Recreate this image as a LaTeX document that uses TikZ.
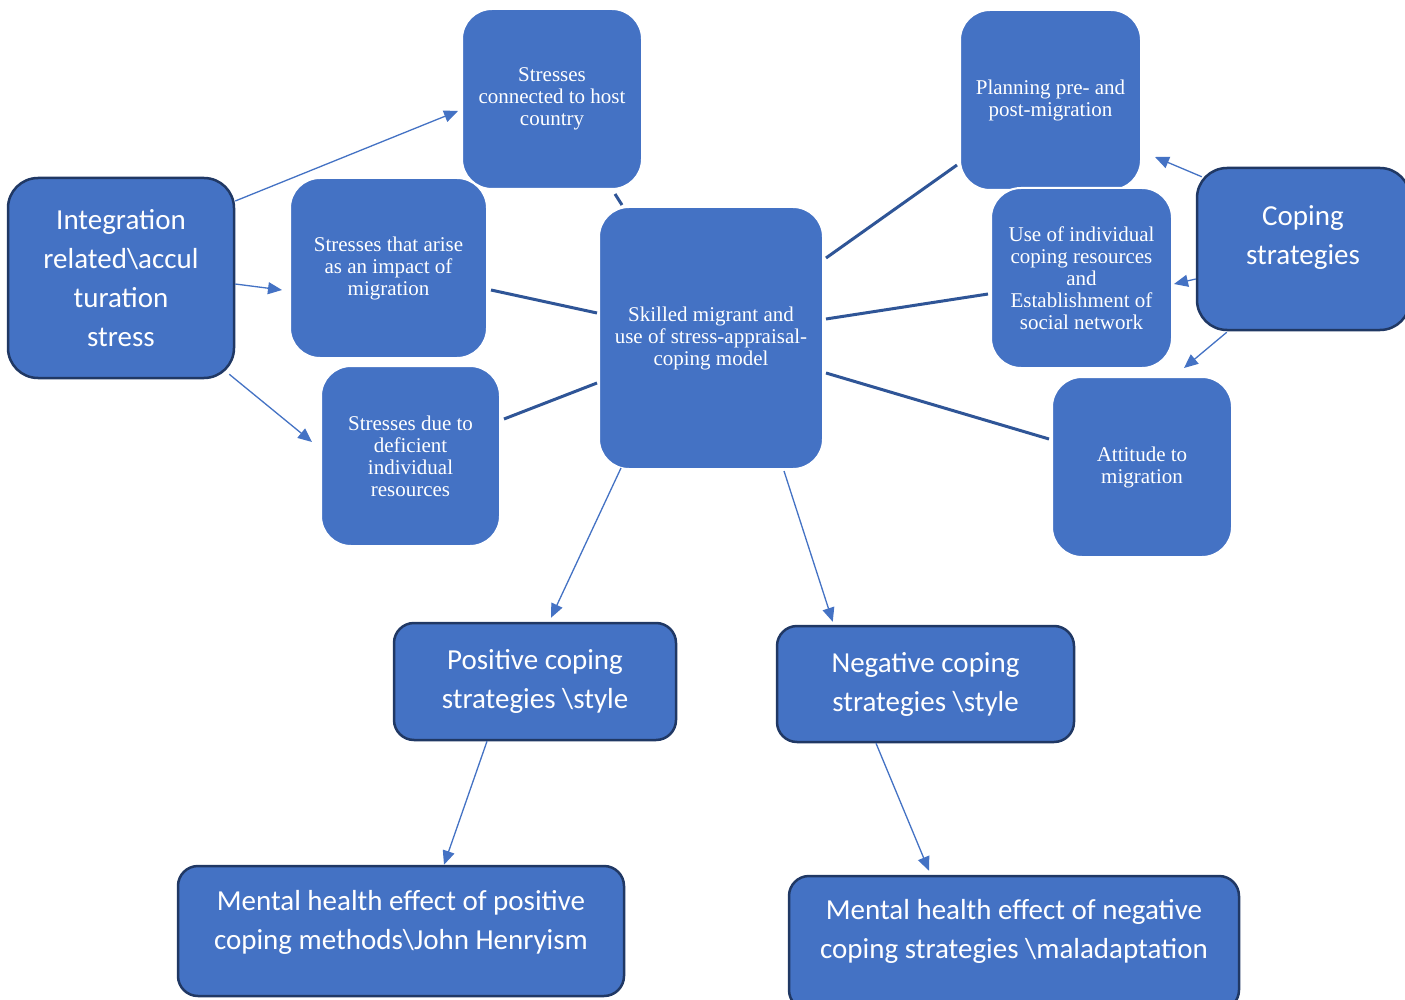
\documentclass[tikz,border=0pt]{standalone}
\usepackage{fontspec}
\setmainfont{Liberation Serif}
\newfontfamily\calib{Carlito}
\usetikzlibrary{arrows.meta}
\definecolor{boxblue}{HTML}{4472C4}
\definecolor{navy}{HTML}{203864}
\definecolor{linkblue}{HTML}{2F5597}
\begin{document}
\begin{tikzpicture}[x=1pt,y=-1pt,
  serifbox/.style={rectangle, rounded corners=30pt, fill=boxblue, draw=white, line width=2pt,
    text=white, align=center, font=\fontsize{21}{22}\selectfont, inner sep=0pt},
  sansbox/.style={rectangle, rounded corners=30pt, fill=boxblue, draw=navy, line width=2.5pt,
    text=white, align=center, font=\calib\fontsize{29}{39}\selectfont, inner sep=0pt},
  sanstext/.style={text=white, align=center, font=\calib\fontsize{29}{39}\selectfont, inner sep=0pt},
  link/.style={draw=linkblue, line width=3pt},
  arr/.style={draw=boxblue, line width=1.3pt, -{Triangle[length=14pt,width=12pt]}},
]
\clip (0,0) rectangle (1405,1000);
\fill[white] (0,0) rectangle (1405,1000);

% boxes
\node[sansbox, minimum width=226pt, minimum height=200pt] (int) at (121,278)
  {Integration\\related\textbackslash accul\\turation\\stress};
\node[serifbox, minimum width=180pt, minimum height=180pt] (host) at (552,99)
  {Stresses\\connected to host\\country};
\node[serifbox, minimum width=197pt, minimum height=180pt] (arise) at (388.5,268)
  {Stresses that arise\\as an impact of\\migration};
\node[serifbox, minimum width=179pt, minimum height=180pt] (due) at (410.5,456)
  {Stresses due to\\deficient\\individual\\resources};
\node[serifbox, minimum width=224pt, minimum height=262pt] (ctr) at (711,338)
  {Skilled migrant and\\use of stress-appraisal-\\coping model};
\node[serifbox, minimum width=181pt, minimum height=180pt] (plan) at (1050.5,100)
  {Planning pre- and\\post-migration};
\node[serifbox, minimum width=181pt, minimum height=180pt] (use) at (1081.5,278)
  {Use of individual\\coping resources\\and\\Establishment of\\social network};
\node[serifbox, minimum width=180pt, minimum height=180pt] (att) at (1142,467)
  {Attitude to\\migration};
\node[sansbox, minimum width=213pt, minimum height=162pt] (cop) at (1303.5,249) {};
\node[sanstext] (copT) at (1303,238) {Coping\\strategies};
\node[sansbox, rounded corners=20pt, minimum width=282pt, minimum height=117pt] (pos) at (535,681.5)
  {Positive coping\\strategies \textbackslash style};
\node[sansbox, rounded corners=20pt, minimum width=297pt, minimum height=116pt] (neg) at (925.5,684)
  {Negative coping\\strategies \textbackslash style};
\node[sansbox, rounded corners=20pt, minimum width=446pt, minimum height=130pt] (mhp) at (401,931) {};
\node[sanstext] (mhpT) at (401,922) {Mental health effect of positive\\coping methods\textbackslash John Henryism};
\node[sansbox, rounded corners=20pt, minimum width=450pt, minimum height=134pt] (mhn) at (1014,943) {};
\node[sanstext] (mhnT) at (1014,931) {Mental health effect of negative\\coping strategies \textbackslash maladaptation};

% links to centre
\draw[link] ([xshift=-28pt,yshift=-4pt]host.south east) -- ([xshift=24pt,yshift=1pt]ctr.north west);
\draw[link] ([xshift=3pt,yshift=-22pt]arise.east) -- ([xshift=-1pt,yshift=25pt]ctr.west);
\draw[link] ([xshift=3pt,yshift=37pt]due.east) -- ([xshift=-1pt,yshift=-45pt]ctr.west);
\draw[link] ([xshift=2pt,yshift=80pt]ctr.east) -- ([xshift=-2pt,yshift=-65pt]plan.west);
\draw[link] ([xshift=2pt,yshift=19pt]ctr.east) -- ([xshift=-2pt,yshift=-16pt]use.west);
\draw[link] ([xshift=2pt,yshift=-35pt]ctr.east) -- ([xshift=-2pt,yshift=28pt]att.west);

% arrows
\draw[arr] ([yshift=77pt]int.east) -- ([xshift=-3pt,yshift=-12pt]host.west);
\draw[arr] ([yshift=-6pt]int.east) -- ([xshift=-7pt,yshift=-22pt]arise.west);
\draw[arr] ([xshift=-6pt,yshift=5pt]int.south east) -- ([xshift=-8pt,yshift=14pt]due.west);
\draw[arr] ([xshift=6pt,yshift=-10pt]cop.north west) -- ([xshift=13pt,yshift=-57pt]plan.east);
\draw[arr] ([yshift=-30pt]cop.west) -- ([xshift=1pt,yshift=-6pt]use.east);
\draw[arr] ([xshift=31pt,yshift=-1pt]cop.south west) -- ([xshift=-49pt,yshift=8pt]att.north east);
\draw[arr] ([xshift=23pt,yshift=2pt]ctr.south west) -- ([xshift=16pt,yshift=4pt]pos.north);
\draw[arr] ([xshift=-40pt,yshift=-1pt]ctr.south east) -- ([xshift=57pt,yshift=3pt]neg.north west);
\draw[arr] ([xshift=-48pt]pos.south) -- ([xshift=43pt]mhp.north);
\draw[arr] ([xshift=-49.5pt]neg.south) -- ([xshift=-85pt,yshift=4pt]mhn.north);
\end{tikzpicture}
\end{document}
